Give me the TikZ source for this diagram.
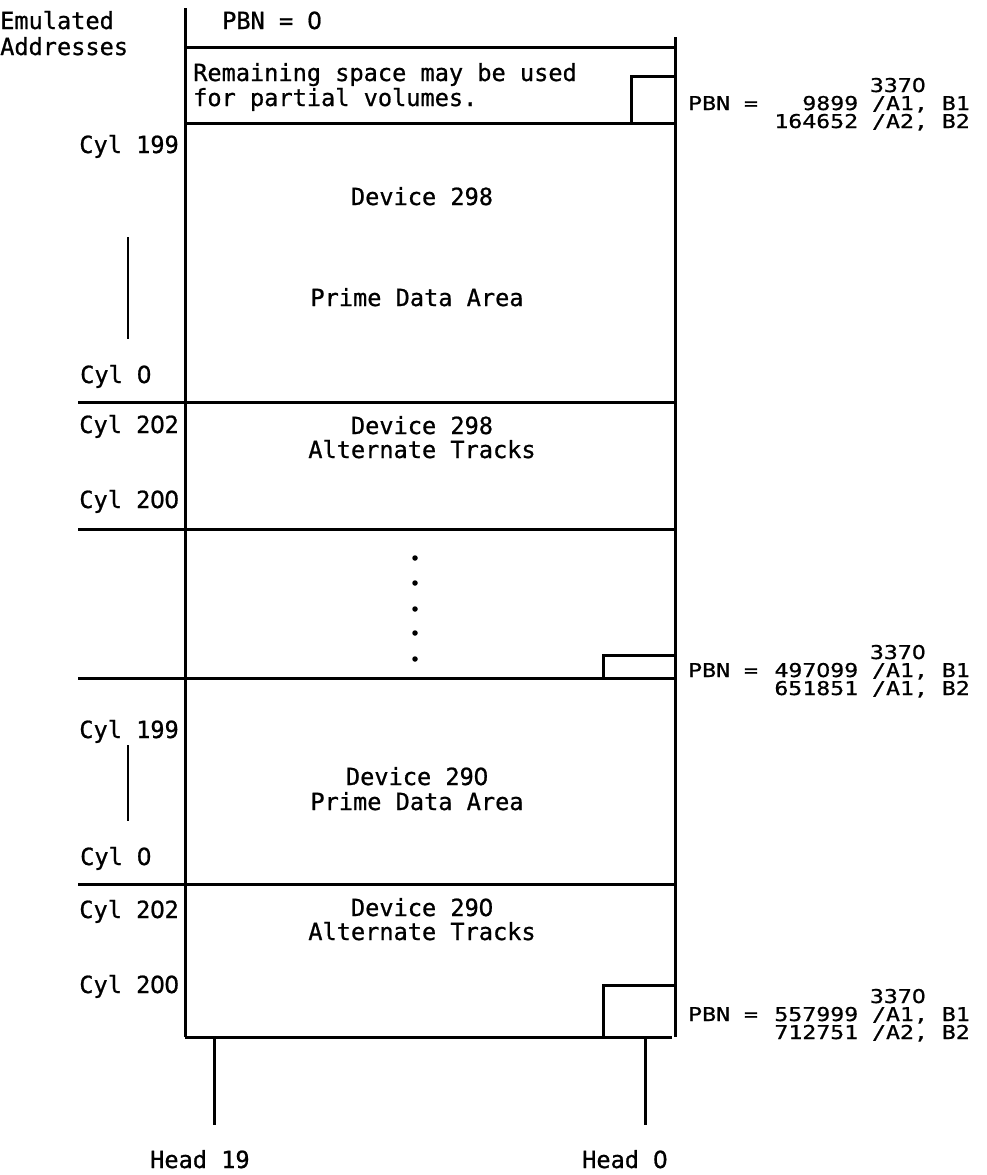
\documentclass[tikz,border=0pt]{standalone}
\usepackage{fontspec}
\newfontfamily\mainmono{DejaVu Sans Mono}[FakeBold=0.8]
\newfontfamily\lblmono{DejaVu Sans Mono}[FakeStretch=1.22,FakeBold=0.8]
\newfontfamily\zmain{DejaVu Sans}[FakeBold=0.8]
\newfontfamily\zlbl{DejaVu Sans}[FakeStretch=1.16,FakeBold=0.8]
\let\zcur\zmain
\newcommand\zr{\hbox to \fontcharwd\font`\1{\hss\zcur 0\hss}}
\begin{document}
\begin{tikzpicture}[x=1pt,y=-1pt,
  ln/.style={line width=3pt},
  bar/.style={line width=2.6pt},
  txt/.style={inner sep=0pt, font={\mainmono\let\zcur\zmain\fontsize{23.6}{24}\selectfont}},
  lbl/.style={inner sep=0pt, font={\lblmono\let\zcur\zlbl\fontsize{19}{19}\selectfont}},
  dotmark/.style={circle, fill=black, inner sep=0pt, minimum size=5.5pt}]
\useasboundingbox (0,0) rectangle (987,1175);
% frame
\draw[ln] (185,8) -- (185,1037);
\draw[ln] (675,37) -- (675,1037);
\draw[ln] (185,47) -- (675,47);
\draw[ln] (185,123) -- (675,123);
\draw[ln] (78,402) -- (675,402);
\draw[ln] (78,529) -- (675,529);
\draw[ln] (78,678) -- (675,678);
\draw[ln] (78,884) -- (675,884);
\draw[ln] (185,1037) -- (672,1037);
% small boxes
\draw[ln] (631,123) -- (631,76) -- (675,76);
\draw[ln] (603,678) -- (603,655) -- (675,655);
\draw[ln] (603,1037) -- (603,985) -- (675,985);
% heads
\draw[ln] (214,1037) -- (214,1125);
\draw[ln] (645,1037) -- (645,1125);
% range bars
\draw[bar] (128,237) -- (128,339);
\draw[bar] (128,745) -- (128,821);
% dots
\foreach \yy/\nm in {558/d1,583/d2,609/d3,633/d4,659/d5}
  \node[dotmark] (\nm) at (415,\yy) {};
% left texts
\node[txt, anchor=base west] (emu) at (0,29) {Emulated};
\node[txt, anchor=base west] (addr) at (0,55) {Addresses};
\node[txt, anchor=base west] (pbn0) at (222,29) {PBN = \zr};
\node[txt, anchor=base west] (rem1) at (193,81) {Remaining space may be used};
\node[txt, anchor=base west] (rem2) at (193,106) {for partial volumes.};
\node[txt, anchor=base east] (c1) at (179,153) {Cyl 199};
\node[txt, anchor=base west] (c2) at (80,383) {Cyl \zr};
\node[txt, anchor=base east] (c3) at (179,433) {Cyl 2\zr2};
\node[txt, anchor=base east] (c4) at (179,508) {Cyl 2\zr\zr};
\node[txt, anchor=base east] (c5) at (179,738) {Cyl 199};
\node[txt, anchor=base west] (c6) at (80,865) {Cyl \zr};
\node[txt, anchor=base east] (c7) at (179,918) {Cyl 2\zr2};
\node[txt, anchor=base east] (c8) at (179,993) {Cyl 2\zr\zr};
% centre texts
\node[txt, anchor=base] (t1) at (422,205) {Device 298};
\node[txt, anchor=base] (t2) at (417,306) {Prime Data Area};
\node[txt, anchor=base] (t3) at (422,434) {Device 298};
\node[txt, anchor=base] (t4) at (422,458) {Alternate Tracks};
\node[txt, anchor=base] (t5) at (417,785) {Device 29\zr};
\node[txt, anchor=base] (t6) at (417,810) {Prime Data Area};
\node[txt, anchor=base] (t7) at (422,916) {Device 29\zr};
\node[txt, anchor=base] (t8) at (422,940) {Alternate Tracks};
% heads
\node[txt, anchor=base west] (h19) at (150,1168) {Head 19};
\node[txt, anchor=base west] (h0) at (582,1168) {Head \zr};
% right labels block 1
\node[lbl, anchor=base east] (a1) at (926,92) {337\zr};
\node[lbl, anchor=base west] (a2) at (688,110) {PBN =};
\node[lbl, anchor=base east] (a3) at (970,110) {9899 /A1, B1};
\node[lbl, anchor=base east] (a4) at (970,128) {164652 /A2, B2};
% block 2
\node[lbl, anchor=base east] (b1) at (926,659) {337\zr};
\node[lbl, anchor=base west] (b2) at (688,677) {PBN =};
\node[lbl, anchor=base east] (b3) at (970,677) {497\zr99 /A1, B1};
\node[lbl, anchor=base east] (b4) at (970,695) {651851 /A1, B2};
% block 3
\node[lbl, anchor=base east] (e1) at (926,1003) {337\zr};
\node[lbl, anchor=base west] (e2) at (688,1021) {PBN =};
\node[lbl, anchor=base east] (e3) at (970,1021) {557999 /A1, B1};
\node[lbl, anchor=base east] (e4) at (970,1039) {712751 /A2, B2};
\end{tikzpicture}
\end{document}
